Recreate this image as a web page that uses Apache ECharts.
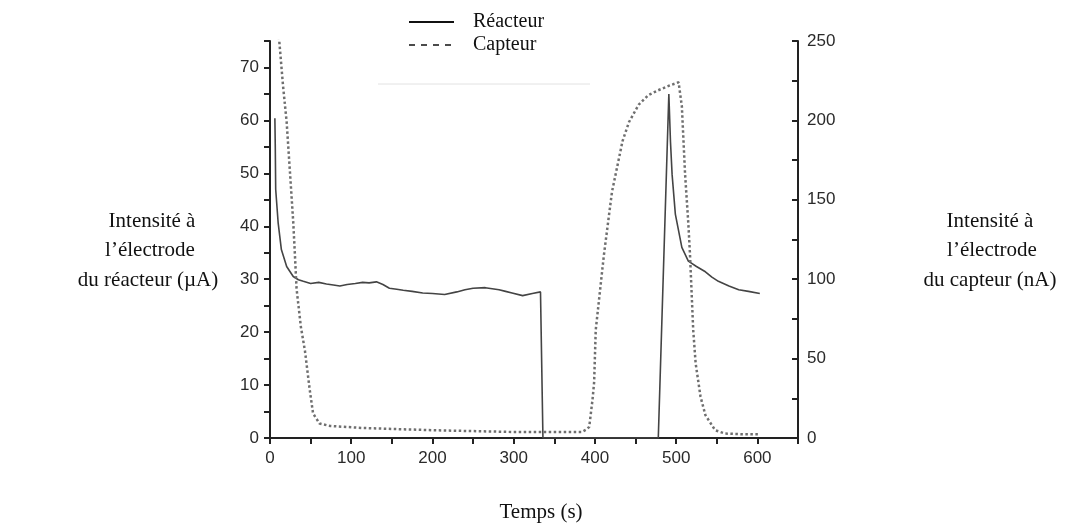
<!DOCTYPE html>
<html>
<head>
<meta charset="utf-8">
<script src="https://cdn.jsdelivr.net/npm/echarts@6/dist/echarts.min.js"></script>
<style>
  html, body { margin: 0; padding: 0; background: #fff; }
  #chart { width: 1068px; height: 523px; }
</style>
</head>
<body>
<div id="chart"></div>
<script>
// Réacteur (µA, axe gauche) : [temps s, intensité]
var reacteur_data = [
    [6, 60.4], [6.5, 55], [7, 47], [10, 40.7], [14, 35.6], [20.5, 32.4], [28.6, 30.5],
    [35, 29.9], [41, 29.6], [50, 29.2], [60, 29.4], [69.5, 29.1], [78, 28.9], [86, 28.7],
    [95, 29.0], [105, 29.2], [114, 29.4], [122, 29.3], [131, 29.5], [139, 29.0], [147, 28.3],
    [156, 28.1], [164, 27.9], [175, 27.7], [188, 27.4], [200, 27.3], [215, 27.1], [230, 27.6],
    [240, 28.0], [250, 28.3], [265, 28.4], [282, 28.0], [290, 27.7], [298, 27.4], [311, 26.9],
    [323, 27.3], [333, 27.6], [335, 27.5], [336, 0], [478, 0], [491, 65], [493, 56],
    [495, 49.8], [499, 42.3], [507, 36], [515, 33.4], [525, 32.4], [536, 31.4], [544, 30.4],
    [552, 29.6], [565, 28.7], [577, 28.0], [589, 27.7], [603, 27.3]
];
// Capteur (nA, axe droit) : [temps s, intensité]
var capteur_data = [
    [8, 262], [11.4, 250], [16, 222], [20.5, 199], [24.5, 168], [28.6, 136], [30.7, 115],
    [32.7, 94], [38, 70], [43, 55], [49, 30], [53, 15.5], [61, 9.1], [74, 7.6], [114, 6.3],
    [200, 4.9], [299, 3.8], [384, 3.8], [390, 5.5], [393, 7], [397, 24], [399, 35],
    [401, 68], [411, 115], [421, 155], [434, 187], [442, 199], [454, 210], [466, 216],
    [478, 219], [492, 222], [503, 224], [507, 209], [511, 166], [515, 135], [517, 116],
    [521, 68], [524, 47], [530, 26], [536, 14.4], [548, 4.9], [560, 2.8], [580, 2.4], [603, 2.3]
];
var legend_names = ['Réacteur', 'Capteur'];

var chart = echarts.init(document.getElementById('chart'));
var serif = 'Liberation Serif';
var sans = 'Liberation Sans';
var axis_color = '#222';
var label_font = '21px ' + serif;

function side_text(x, y, txt) {
    return { type: 'text', x: x, y: y, style: { text: txt, font: label_font, fill: '#111', textAlign: 'center', textVerticalAlign: 'middle' } };
}

var option = {
    animation: false,
    backgroundColor: '#fff',
    grid: { left: 270, right: 270, top: 41, bottom: 85 },
    legend: {
        orient: 'vertical',
        left: 403,
        top: 7,
        itemWidth: 45,
        itemHeight: 14,
        itemGap: 3,
        itemStyle: { opacity: 0 },
        textStyle: { fontFamily: serif, fontSize: 20, color: '#111', padding: [0, 0, 0, 14] },
        data: [
            { name: legend_names[0], itemStyle: { opacity: 0 }, lineStyle: { color: '#111', width: 2, type: 'solid' } },
            { name: legend_names[1], itemStyle: { opacity: 0 }, lineStyle: { color: '#111', width: 1.5, type: [6, 6] } }
        ]
    },
    xAxis: {
        type: 'value',
        min: 0, max: 650, interval: 50,
        splitLine: { show: false },
        axisLine: { lineStyle: { color: axis_color, width: 2 } },
        axisTick: { length: 6, lineStyle: { color: axis_color, width: 2 } },
        axisLabel: {
            margin: 12, fontFamily: sans, fontSize: 17, color: '#2a2a2a',
            formatter: function (v) { return (v % 100 === 0 && v <= 600) ? v : ''; }
        }
    },
    yAxis: [
        {
            type: 'value',
            min: 0, max: 75, interval: 5,
            splitLine: { show: false },
            axisLine: { show: true, lineStyle: { color: axis_color, width: 2 } },
            axisTick: { show: true, length: 6, lineStyle: { color: axis_color, width: 2 } },
            axisLabel: {
                margin: 11, fontFamily: sans, fontSize: 17, color: '#2a2a2a',
                formatter: function (v) { return v % 10 === 0 && v <= 70 ? v : ''; }
            }
        },
        {
            type: 'value',
            position: 'right',
            min: 0, max: 250, interval: 25,
            splitLine: { show: false },
            axisLine: { show: true, lineStyle: { color: axis_color, width: 2 } },
            axisTick: { show: true, inside: true, length: 6, lineStyle: { color: axis_color, width: 2 } },
            axisLabel: {
                margin: 9, fontFamily: sans, fontSize: 17, color: '#2a2a2a',
                formatter: function (v) { return v % 50 === 0 ? v : ''; }
            }
        }
    ],
    series: [
        {
            name: legend_names[0],
            type: 'line',
            yAxisIndex: 0,
            symbol: 'none',
            lineStyle: { color: '#444', width: 1.6 },
            itemStyle: { color: '#444' },
            data: reacteur_data
        },
        {
            name: legend_names[1],
            type: 'line',
            yAxisIndex: 1,
            symbol: 'none',
            lineStyle: { color: '#6f6f6f', width: 2.5, type: [2.5, 2.5] },
            itemStyle: { color: '#6f6f6f' },
            data: capteur_data
        }
    ],
    graphic: [
        { type: 'line', shape: { x1: 378, y1: 84, x2: 590, y2: 84 }, style: { stroke: '#e2e2e2', lineWidth: 1 } },
        side_text(152, 221, 'Intensité à'),
        side_text(150, 250, 'l\u2019électrode'),
        side_text(148, 280, 'du réacteur (µA)'),
        side_text(990, 221, 'Intensité à'),
        side_text(992, 250, 'l\u2019électrode'),
        side_text(990, 280, 'du capteur (nA)'),
        side_text(541, 512, 'Temps (s)')
    ]
};
chart.setOption(option);
</script>
</body>
</html>
